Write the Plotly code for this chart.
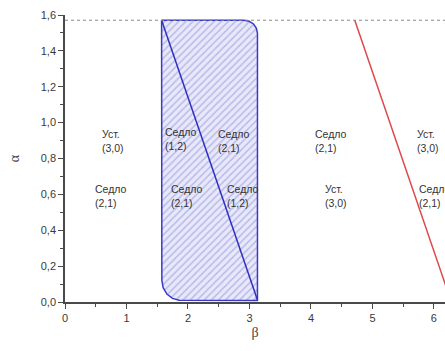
import math
import plotly.graph_objects as go

PI = math.pi

# Outline of the hatched region (beta, alpha), traced clockwise from the top-left corner
region_beta = [PI / 2, 2.91, 2.994, 3.066, 3.113, 3.13, 3.13,
               1.855, 1.748, 1.657, 1.596, 1.575, PI / 2]
region_alpha = [PI / 2, PI / 2, 1.565, 1.550, 1.526, 1.498, 0.008,
                0.010, 0.020, 0.044, 0.080, 0.122, PI / 2]

# Boundary lines alpha + beta = pi and alpha + beta = 2*pi
blue_beta = [PI / 2, 3.13]
blue_alpha = [PI / 2, PI - 3.13]
red_beta = [3 * PI / 2, 2 * PI]
red_alpha = [PI / 2, 0.0]

# Upper limit alpha = pi/2
limit_alpha = PI / 2
x_max = 6.18

# Region labels: (beta, alpha, first line, second line)
label_beta = [0.57, 0.46, 1.6, 2.45, 1.69, 2.6, 4.04, 4.19, 5.69, 5.72]
label_alpha = [0.90, 0.59, 0.91, 0.90, 0.59, 0.59, 0.90, 0.59, 0.90, 0.59]
label_top = ["Уст.", "Седло", "Седло", "Седло", "Седло", "Седло", "Седло", "Уст.", "Уст.", "Седло"]
label_bottom = ["(3,0)", "(2,1)", "(1,2)", "(2,1)", "(2,1)", "(1,2)", "(2,1)", "(3,0)", "(3,0)", "(2,1)"]

x_ticks = [0, 1, 2, 3, 4, 5, 6]
y_ticks = [0.0, 0.2, 0.4, 0.6, 0.8, 1.0, 1.2, 1.4, 1.6]

fig = go.Figure()

fig.add_trace(go.Scatter(
    x=region_beta, y=region_alpha, mode="lines", fill="toself",
    line=dict(color="#3a3ac8", width=1.5),
    fillcolor="rgba(215,215,245,1)",
    fillpattern=dict(shape="/", bgcolor="rgba(232,232,252,1)", fgcolor="#8c8cd0",
                     size=5, solidity=0.3),
    hoverinfo="skip", showlegend=False,
))

fig.add_trace(go.Scatter(
    x=blue_beta, y=blue_alpha, mode="lines",
    line=dict(color="#3030c0", width=1.5), showlegend=False,
))

fig.add_trace(go.Scatter(
    x=red_beta, y=red_alpha, mode="lines",
    line=dict(color="#e04848", width=1.5), showlegend=False,
))

fig.add_trace(go.Scatter(
    x=[0, x_max], y=[limit_alpha, limit_alpha], mode="lines",
    line=dict(color="#8a8a8a", width=1, dash="3px,3px"), showlegend=False,
))

label_font = dict(family="Liberation Sans, Arial", size=10.5, color="#333333")
for bx, ay, top, bottom in zip(label_beta, label_alpha, label_top, label_bottom):
    fig.add_annotation(x=bx, y=ay, text=top, showarrow=False, xanchor="left",
                       yanchor="bottom", yshift=-1, font=label_font)
    fig.add_annotation(x=bx, y=ay, text=bottom, showarrow=False, xanchor="left",
                       yanchor="top", yshift=1, font=label_font)

axis_common = dict(
    showgrid=False, zeroline=False, showline=True, linecolor="#4a4a4a", linewidth=1.5,
    ticks="outside", ticklen=5, tickwidth=1.2, tickcolor="#4a4a4a",
    tickfont=dict(family="Liberation Sans, Arial", size=11, color="#3a3a3a"),
)

fig.update_xaxes(
    range=[0, x_max], tickvals=x_ticks, ticktext=[str(v) for v in x_ticks],
    minor=dict(dtick=0.5, ticks="outside", ticklen=3, tickcolor="#4a4a4a"),
    title=dict(text="β", font=dict(family="Liberation Serif, Times New Roman", size=14, color="#444444"),
               standoff=4),
    **axis_common,
)
fig.update_yaxes(
    range=[0, 1.6], tickvals=y_ticks, tickformat=".1f",
    minor=dict(dtick=0.1, ticks="outside", ticklen=3, tickcolor="#4a4a4a"),
    title=dict(text="α", font=dict(family="Liberation Serif, Times New Roman", size=14, color="#444444"),
               standoff=18),
    **axis_common,
)

fig.update_layout(
    width=445, height=351,
    margin=dict(l=65, r=0, t=15, b=49),
    paper_bgcolor="white", plot_bgcolor="white",
    separators=", ",
    showlegend=False,
)

fig.write_html("out.html")
